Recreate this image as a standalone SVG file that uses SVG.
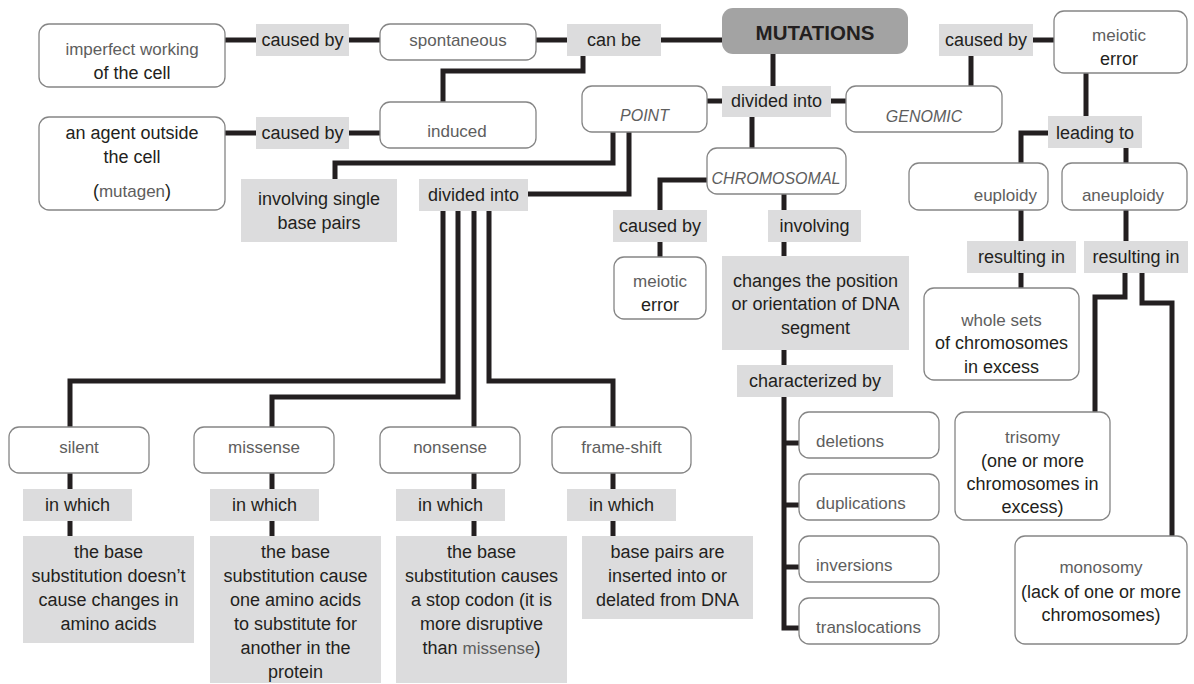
<svg xmlns="http://www.w3.org/2000/svg" width="1194" height="684" viewBox="0 0 1194 684">
<style>
text{font-family:"Liberation Sans",Arial,sans-serif;text-anchor:middle}
.d{font-size:18px;fill:#231f20}
.l{font-size:17px;fill:#5e5e5e}
.i{font-size:16px;fill:#5e5e5e;font-style:italic}
.lab{fill:#dcdcdd}
.box{fill:#fff;stroke:#858585;stroke-width:1.3}
.st{text-anchor:start}
.en{text-anchor:end}
#connectors path{fill:none;stroke:#231f20;stroke-width:5;stroke-linejoin:miter}
</style>
<rect width="1194" height="684" fill="#fff"/>
<g id="connectors">
<path d="M225,40 H256"/>
<path d="M349,40 H380"/>
<path d="M536,40 H567"/>
<path d="M661,40 H722"/>
<path d="M583,56 V71 H443 V102"/>
<path d="M225,133 H256"/>
<path d="M349,133 H380"/>
<path d="M773,54 V86"/>
<path d="M707,101 H722"/>
<path d="M831,101 H846"/>
<path d="M752,117 V148"/>
<path d="M613,132 V163 H335 V179"/>
<path d="M629,132 V194 H528"/>
<path d="M443,211 V381 H70 V427"/>
<path d="M458,211 V397 H272 V427"/>
<path d="M474,211 V427"/>
<path d="M489,211 V381 H613 V427"/>
<path d="M70,473 V536"/>
<path d="M272,473 V536"/>
<path d="M474,473 V536"/>
<path d="M613,473 V536"/>
<path d="M707,180 H660 V210"/>
<path d="M660,242 V257"/>
<path d="M784,194 V210"/>
<path d="M784,242 V256"/>
<path d="M784,350 V365"/>
<path d="M784,397 V628 H799"/>
<path d="M784,443 H799"/>
<path d="M784,505 H799"/>
<path d="M784,567 H799"/>
<path d="M971,86 V56"/>
<path d="M1033,40 H1054"/>
<path d="M1086,73 V116"/>
<path d="M1048,133 H1021 V163"/>
<path d="M1126,148 V163"/>
<path d="M1021,210 V241"/>
<path d="M1126,210 V241"/>
<path d="M1021,273 V288"/>
<path d="M1125,273 V297 H1095 V412"/>
<path d="M1142,273 V303 H1172 V536"/>
</g>

<g id="mutations">
<rect x="722" y="8" width="186" height="46" rx="11" fill="#a3a3a3"/>
<text x="815" y="40" style="font-size:20.5px;font-weight:bold;fill:#231f20">MUTATIONS</text>
</g>

<g id="imperfect">
<rect class="box" x="39" y="24" width="186" height="63" rx="10"/>
<text class="l" x="132" y="55">imperfect working</text>
<text class="d" x="132" y="79">of the cell</text>
</g>
<g id="causedby1"><rect class="lab" x="256" y="24" width="93" height="32"/><text class="d" x="302.5" y="46">caused by</text></g>
<g id="spontaneous"><rect class="box" x="380" y="24" width="156" height="36" rx="10"/><text class="l" x="458" y="46">spontaneous</text></g>
<g id="canbe"><rect class="lab" x="567" y="24" width="94" height="32"/><text class="d" x="614" y="46">can be</text></g>

<g id="agent">
<rect class="box" x="39" y="117" width="186" height="93" rx="10"/>
<text class="d" x="132" y="139">an agent outside</text>
<text class="d" x="132" y="163">the cell</text>
<text class="d" x="132" y="197">(<tspan style="font-size:17px;fill:#5e5e5e">mutagen</tspan>)</text>
</g>
<g id="causedby2"><rect class="lab" x="256" y="117" width="93" height="32"/><text class="d" x="302.5" y="139">caused by</text></g>
<g id="induced"><rect class="box" x="380" y="102" width="156" height="46" rx="10"/><text class="l" x="457" y="137">induced</text></g>

<g id="point"><rect class="box" x="582" y="86" width="125" height="46" rx="10"/><text class="i" x="644.5" y="121">POINT</text></g>
<g id="dividedinto2"><rect class="lab" x="722" y="86" width="109" height="31"/><text class="d" x="776.5" y="107">divided into</text></g>
<g id="genomic"><rect class="box" x="846" y="86" width="156" height="46" rx="10"/><text class="i" x="924" y="122">GENOMIC</text></g>
<g id="chromosomal"><rect class="box" x="707" y="148" width="139" height="46" rx="10"/><text class="i" x="776" y="184">CHROMOSOMAL</text></g>

<g id="involvingsingle"><rect class="lab" x="241" y="179" width="156" height="63"/><text class="d" x="319" y="205">involving single</text><text class="d" x="319" y="229">base pairs</text></g>
<g id="dividedinto1"><rect class="lab" x="419" y="179" width="109" height="32"/><text class="d" x="473.5" y="201">divided into</text></g>

<g id="causedby3"><rect class="lab" x="613" y="210" width="94" height="32"/><text class="d" x="660" y="232">caused by</text></g>
<g id="meiotic2"><rect class="box" x="614" y="257" width="92" height="62" rx="10"/><text class="l" x="660" y="287">meiotic</text><text class="d" x="660" y="311">error</text></g>
<g id="involving"><rect class="lab" x="768" y="210" width="93" height="32"/><text class="d" x="814.5" y="232">involving</text></g>
<g id="changes"><rect class="lab" x="722" y="256" width="187" height="94"/><text class="d" x="815.5" y="287">changes the position</text><text class="d" x="815.5" y="310">or orientation of DNA</text><text class="d" x="815.5" y="334">segment</text></g>
<g id="characterized"><rect class="lab" x="737" y="365" width="156" height="32"/><text class="d" x="815" y="387">characterized by</text></g>
<g id="deletions"><rect class="box" x="799" y="412" width="140" height="46" rx="10"/><text class="l st" x="816" y="447">deletions</text></g>
<g id="duplications"><rect class="box" x="799" y="474" width="140" height="46" rx="10"/><text class="l st" x="816" y="509">duplications</text></g>
<g id="inversions"><rect class="box" x="799" y="536" width="140" height="46" rx="10"/><text class="l st" x="816" y="571">inversions</text></g>
<g id="translocations"><rect class="box" x="799" y="598" width="140" height="46" rx="10"/><text class="l st" x="816" y="633">translocations</text></g>

<g id="causedby4"><rect class="lab" x="939" y="24" width="94" height="32"/><text class="d" x="986" y="46">caused by</text></g>
<g id="meiotic1"><rect class="box" x="1054" y="11" width="133" height="62" rx="10"/><text class="l" x="1119" y="41">meiotic</text><text class="d" x="1119" y="65">error</text></g>
<g id="leadingto"><rect class="lab" x="1048" y="116" width="94" height="32"/><text class="d" x="1095" y="139">leading to</text></g>
<g id="euploidy"><rect class="box" x="909" y="163" width="139" height="47" rx="10"/><text class="l en" x="1037" y="201">euploidy</text></g>
<g id="aneuploidy"><rect class="box" x="1062" y="163" width="125" height="47" rx="10"/><text class="l" x="1123" y="201">aneuploidy</text></g>
<g id="resulting1"><rect class="lab" x="967" y="241" width="109" height="32"/><text class="d" x="1021.5" y="263">resulting in</text></g>
<g id="resulting2"><rect class="lab" x="1084" y="241" width="104" height="32"/><text class="d" x="1136" y="263">resulting in</text></g>
<g id="wholesets"><rect class="box" x="924" y="288" width="155" height="92" rx="10"/><text class="l" x="1001.5" y="326">whole sets</text><text class="d" x="1001.5" y="349">of chromosomes</text><text class="d" x="1001.5" y="373">in excess</text></g>
<g id="trisomy"><rect class="box" x="955" y="412" width="155" height="108" rx="10"/><text class="l" x="1032.5" y="443">trisomy</text><text class="d" x="1032.5" y="467">(one or more</text><text class="d" x="1032.5" y="490">chromosomes in</text><text class="d" x="1032.5" y="513">excess)</text></g>
<g id="monosomy"><rect class="box" x="1015" y="536" width="172" height="108" rx="10"/><text class="l" x="1101" y="573">monosomy</text><text class="d" x="1101" y="598">(lack of one or more</text><text class="d" x="1101" y="621">chromosomes)</text></g>

<g id="silent"><rect class="box" x="9" y="427" width="140" height="46" rx="10"/><text class="l" x="79" y="453">silent</text></g>
<g id="missense"><rect class="box" x="194" y="427" width="140" height="46" rx="10"/><text class="l" x="264" y="453">missense</text></g>
<g id="nonsense"><rect class="box" x="380" y="427" width="140" height="46" rx="10"/><text class="l" x="450" y="453">nonsense</text></g>
<g id="frameshift"><rect class="box" x="552" y="427" width="139" height="46" rx="10"/><text class="l" x="621.5" y="453">frame-shift</text></g>

<g id="inwhich1"><rect class="lab" x="23" y="489" width="109" height="32"/><text class="d" x="77.5" y="511">in which</text></g>
<g id="inwhich2"><rect class="lab" x="210" y="489" width="109" height="32"/><text class="d" x="264.5" y="511">in which</text></g>
<g id="inwhich3"><rect class="lab" x="396" y="489" width="109" height="32"/><text class="d" x="450.5" y="511">in which</text></g>
<g id="inwhich4"><rect class="lab" x="567" y="489" width="109" height="32"/><text class="d" x="621.5" y="511">in which</text></g>

<g id="desc1"><rect class="lab" x="23" y="536" width="171" height="107"/><text class="d" x="108.5" y="558">the base</text><text class="d" x="108.5" y="582">substitution doesn’t</text><text class="d" x="108.5" y="606">cause changes in</text><text class="d" x="108.5" y="630">amino acids</text></g>
<g id="desc2"><rect class="lab" x="210" y="536" width="171" height="147"/><text class="d" x="295.5" y="558">the base</text><text class="d" x="295.5" y="582">substitution cause</text><text class="d" x="295.5" y="606">one amino acids</text><text class="d" x="295.5" y="630">to substitute for</text><text class="d" x="295.5" y="654">another in the</text><text class="d" x="295.5" y="678">protein</text></g>
<g id="desc3"><rect class="lab" x="396" y="536" width="171" height="147"/><text class="d" x="481.5" y="558">the base</text><text class="d" x="481.5" y="582">substitution causes</text><text class="d" x="481.5" y="606">a stop codon (it is</text><text class="d" x="481.5" y="630">more disruptive</text><text class="d" x="481.5" y="654">than <tspan style="font-size:17px;fill:#5e5e5e">missense</tspan>)</text></g>
<g id="desc4"><rect class="lab" x="582" y="536" width="171" height="83"/><text class="d" x="667.5" y="558">base pairs are</text><text class="d" x="667.5" y="582">inserted into or</text><text class="d" x="667.5" y="606">delated from DNA</text></g>
</svg>
